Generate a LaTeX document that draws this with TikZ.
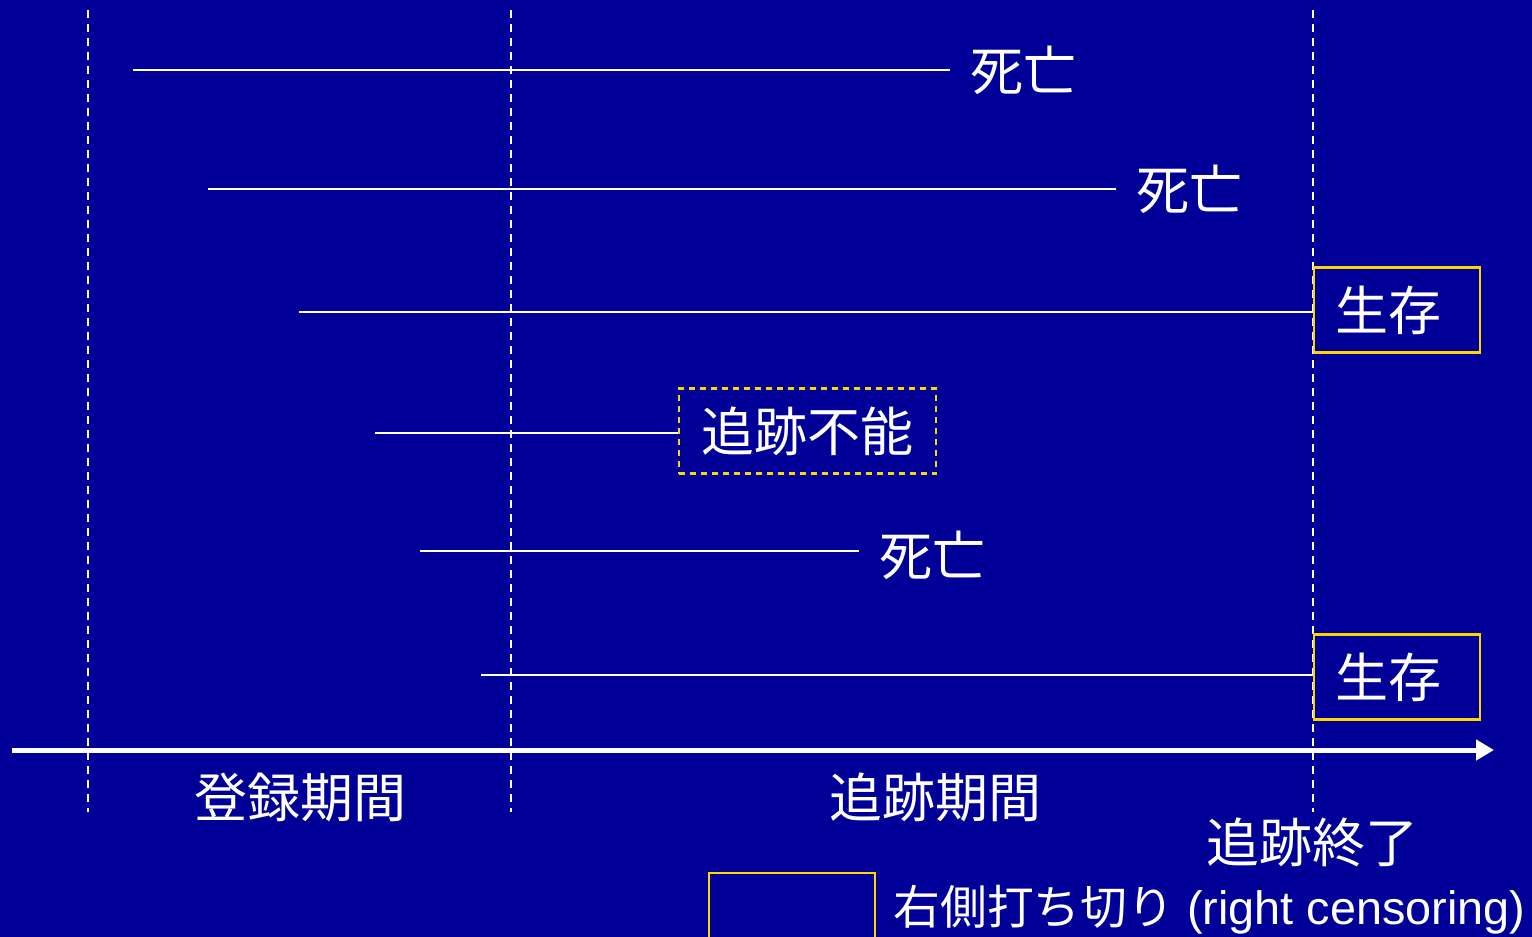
\documentclass[tikz,border=0pt]{standalone}
\usepackage{fontspec}
\setmainfont{Liberation Sans}
\newfontfamily\cjk{Noto Sans CJK JP}
\usetikzlibrary{arrows.meta}
\definecolor{bg}{RGB}{0,0,153}
\definecolor{gold}{RGB}{255,215,0}
\begin{document}
\begin{tikzpicture}[x=0.5pt,y=-0.5pt,
  guide/.style={white,line width=1pt,dash pattern=on 4pt off 3pt},
  life/.style={white,line width=1pt},
  lbl/.style={text=white,font=\cjk\fontsize{26.5}{30}\selectfont,inner sep=0pt},
  evt/.style={lbl,anchor=west,inner xsep=10pt},
  alivebox/.style={draw=gold,line width=1.2pt,minimum width=83pt,minimum height=42.5pt,anchor=west,inner sep=0pt,text=white,font=\cjk\fontsize{26.5}{30}\selectfont},
  lostbox/.style={draw=gold,line width=1.2pt,dash pattern=on 3pt off 2.5pt,minimum width=128.5pt,minimum height=42.5pt,anchor=west,inner sep=0pt,text=white,font=\cjk\fontsize{26.5}{30}\selectfont}]
\fill[bg] (0,0) rectangle (1532,937);
\useasboundingbox (0,0) rectangle (1532,937);
% guides
\coordinate (g1t) at (88,10);  \coordinate (g1b) at (88,812);
\coordinate (g2t) at (511,10); \coordinate (g2b) at (511,812);
\coordinate (g3t) at (1313,10); \coordinate (g3b) at (1313,812);
\draw[guide] (g1t) -- (g1b);
\draw[guide] (g2t) -- (g2b);
\draw[guide] (g3t) -- (g3b);
% axis
\coordinate (ax0) at (12,750); \coordinate (ax1) at (1494,750);
\draw[white,line width=2.5pt,-{Triangle[length=9pt,width=10pt]}] (ax0) -- (ax1);
% lives
\coordinate (s1) at (133,70);
\node[evt] (e1) at (950,70) {死亡};
\draw[life] (s1) -- (e1);
\coordinate (s2) at (208,189);
\node[evt] (e2) at (1116,189) {死亡};
\draw[life] (s2) -- (e2);
\coordinate (s3) at (299,312);
\node[alivebox] (e3) at (1313,310) {生存\hspace*{9pt}};
\draw[life] (s3) -- (e3.west |- s3);
\coordinate (s4) at (375,433);
\node[lostbox] (e4) at (678,431) {追跡不能};
\draw[life] (s4) -- (e4.west |- s4);
\coordinate (s5) at (420,551);
\node[evt] (e5) at (859,555) {死亡};
\draw[life] (s5) -- (e5.west |- s5);
\coordinate (s6) at (481,675);
\node[alivebox] (e6) at (1313,677) {生存\hspace*{9pt}};
\draw[life] (s6) -- (e6.west |- s6);
% axis labels
\node[lbl] (p1) at (300,797) {登録期間};
\node[lbl] (p2) at (935,797) {追跡期間};
\node[lbl] (p3) at (1312,842) {追跡終了};
% legend
\node[draw=gold,line width=1.2pt,minimum width=83pt,minimum height=45pt,anchor=north west,inner sep=0pt] (lg) at (708,872) {};
\node[anchor=west,inner sep=0pt,text=white,font=\fontsize{23.4}{26}\selectfont] (lgt) at (893,910) {{\cjk 右側打ち切り} (right censoring)};
\end{tikzpicture}
\end{document}
